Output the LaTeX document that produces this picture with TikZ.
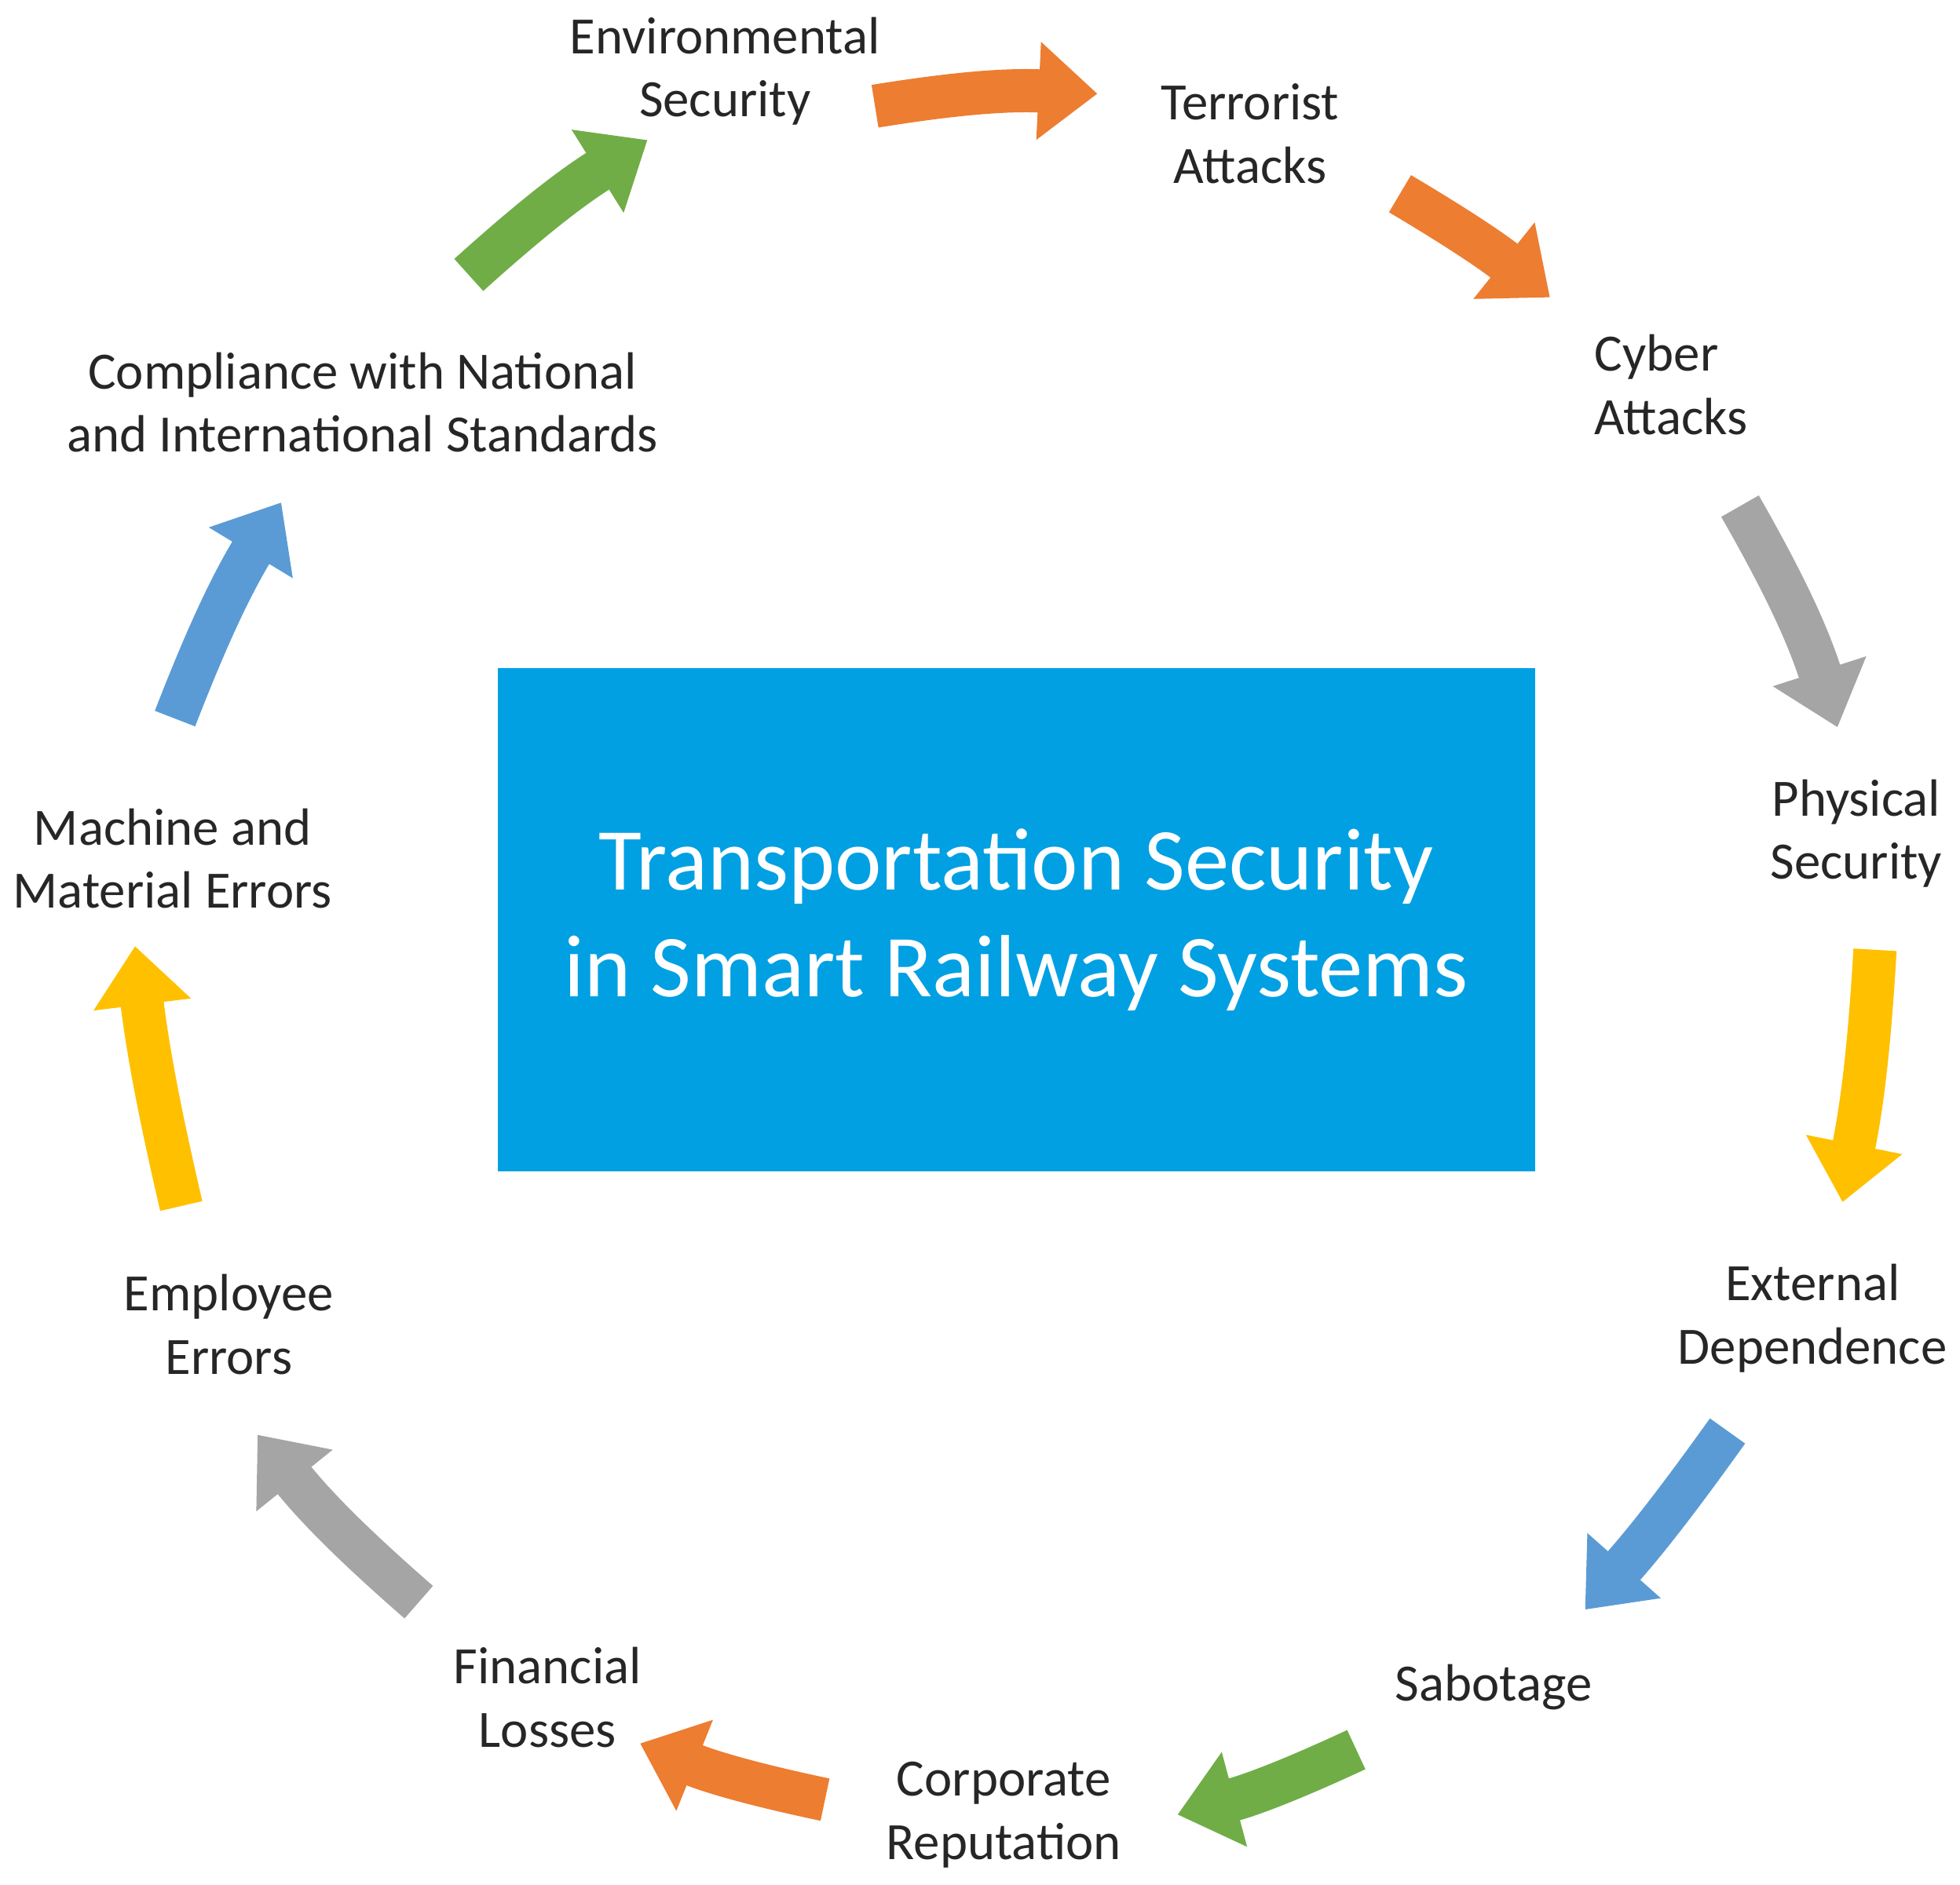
\documentclass[tikz,border=0pt]{standalone}
\usepackage{fontspec}
\setmainfont{Carlito}
\usetikzlibrary{arrows.meta}
\definecolor{aorange}{RGB}{237,125,49}
\definecolor{agreen}{RGB}{112,173,71}
\definecolor{agray}{RGB}{165,165,165}
\definecolor{ayellow}{RGB}{255,192,0}
\definecolor{ablue}{RGB}{91,155,213}
\definecolor{titlebox}{RGB}{0,160,227}
\begin{document}
\begin{tikzpicture}
  [x=0.01592cm, y=-0.01592cm]
  \tikzset{label/.style={align=center, font=\fontsize{19}{23}\selectfont, text=black!85}};
  \tikzset{arr/.style={line width=0.55cm, -{Triangle[width=1.2cm,length=0.75cm]}}};

  \useasboundingbox (0,0) rectangle (1568,1508);

  \node[fill=titlebox, minimum width=830*0.01592cm, minimum height=403*0.01592cm,
        text=white, align=center, font=\fontsize{32}{38.5}\selectfont] (title) at (813,736)
        {Transportation Security\\in Smart Railway Systems};

  \node[label] (env)  at (580,57)   {Environmental\\Security};
  \node[label] (terr) at (1000,107) {Terrorist\\Attacks};
  \node[label, align=left, anchor=west] (cyb) at (1268,308) {Cyber\\Attacks};
  \node[label] (phys) at (1485,667) {Physical\\Security};
  \node[label] (ext)  at (1450,1055) {External\\Dependence};
  \node[label] (sab)  at (1195,1350) {Sabotage};
  \node[label] (corp) at (803,1452) {Corporate\\Reputation};
  \node[label] (fin)  at (438,1358) {Financial\\Losses};
  \node[label] (emp)  at (183,1060) {Employee\\Errors};
  \node[label] (mach) at (138,687)  {Machine and\\Material Errors};
  \node[label] (comp) at (290,322)  {Compliance with National\\and International Standards};

  \draw[arr, aorange] (700,85) to[bend left=6] (878,75);
  \draw[arr, aorange] (1120,155) to[bend left=4] (1240,238);
  \draw[arr, agray]   (1392,405) to[bend left=6] (1470,582);
  \draw[arr, ayellow] (1500,760) to[bend left=4] (1474,962);
  \draw[arr, ablue]   (1382,1145) to[bend left=3] (1268,1288);
  \draw[arr, agreen]  (1085,1400) to[bend left=5] (942,1452);
  \draw[arr, aorange] (660,1440) to[bend left=5] (512,1395);
  \draw[arr, agray]   (335,1282) to[bend left=5] (206,1148);
  \draw[arr, ayellow] (145,965) to[bend left=3] (108,757);
  \draw[arr, ablue]   (140,575) to[bend left=5] (225,402);
  \draw[arr, agreen]  (375,220) to[bend left=5] (518,112);
\end{tikzpicture}
\end{document}
